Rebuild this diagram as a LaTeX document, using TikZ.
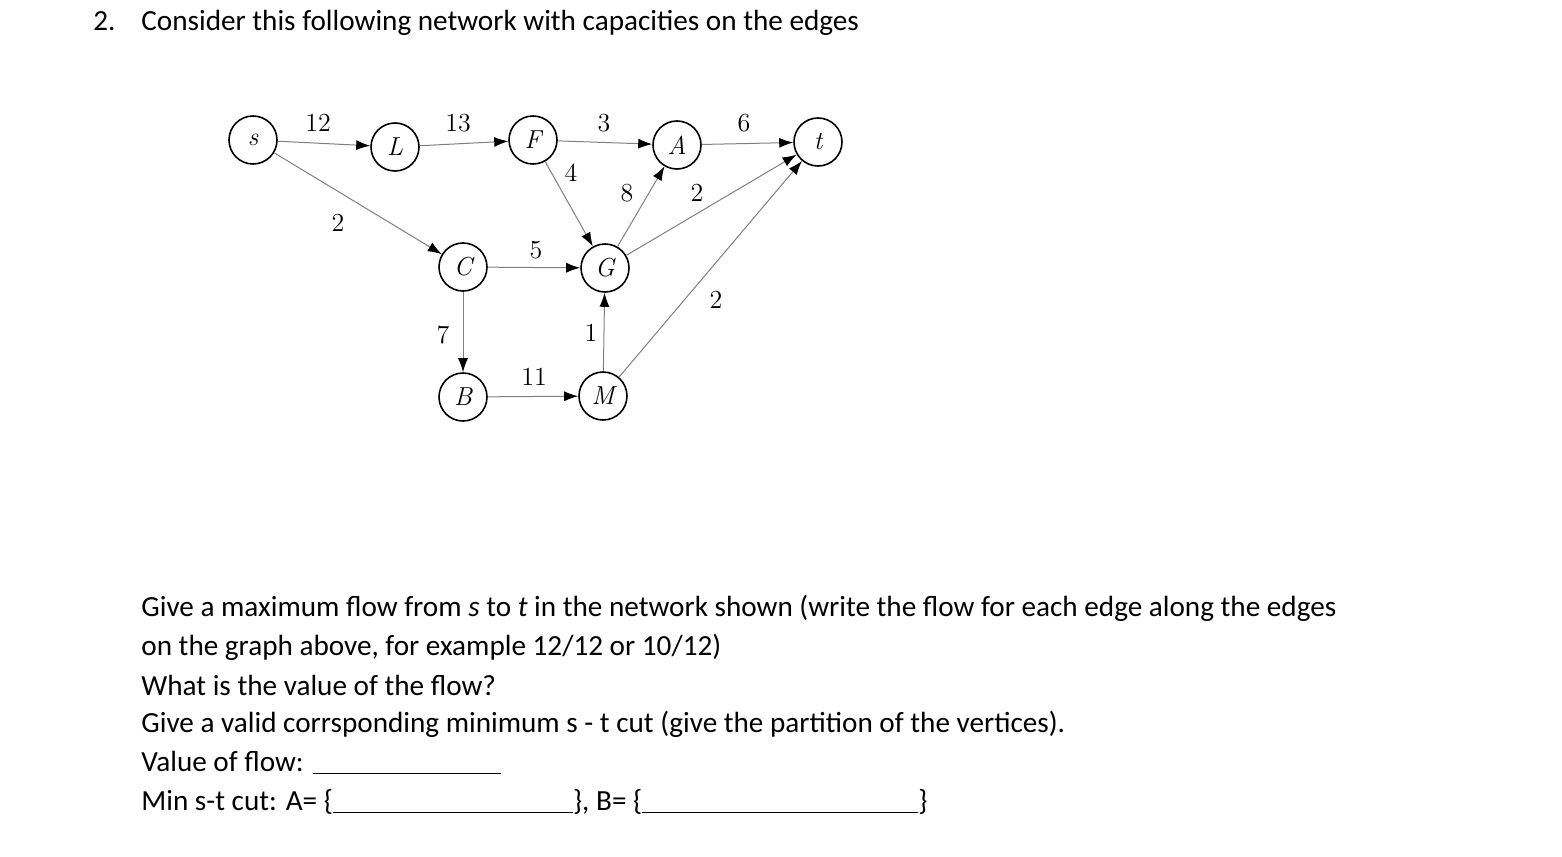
\documentclass[tikz,border=0pt]{standalone}
\usepackage{fontspec}
\setmainfont{Carlito}
\newfontfamily\gr{Latin Modern Roman}
\usetikzlibrary{arrows.meta}
\newcommand{\blank}[1]{\rule[-1.5pt]{#1}{0.6pt}}
\begin{document}
\begin{tikzpicture}[x=0.5pt,y=-0.5pt,
 v/.style={circle,draw=black,thick,minimum size=24pt,inner sep=0pt,font=\gr\fontsize{13}{13}\selectfont\itshape},
 e/.style={draw=gray,line width=0.5pt,-{Latex[length=7pt,width=5pt,black]}},
 lb/.style={font=\gr\fontsize{13}{13}\selectfont,inner sep=1pt},
 tx/.style={anchor=base west,font=\fontsize{14.6}{15}\selectfont,inner sep=0pt}]
\useasboundingbox (0,0) rectangle (1562,856);
\node[v] (s) at (253,140) {s};
\node[v] (L) at (395,147) {L};
\node[v] (F) at (533,140) {F};
\node[v] (A) at (677,145) {A};
\node[v] (t) at (818,142) {t};
\node[v] (C) at (463,267) {C};
\node[v] (G) at (605,268) {G};
\node[v] (B) at (463,397) {B};
\node[v] (M) at (603,396) {M};
\draw[e] (s)--(L); \draw[e] (s)--(C);
\draw[e] (L)--(F); \draw[e] (F)--(A); \draw[e] (A)--(t);
\draw[e] (F)--(G); \draw[e] (G)--(A); \draw[e] (G)--(t);
\draw[e] (C)--(G); \draw[e] (C)--(B); \draw[e] (M)--(G);
\draw[e] (B)--(M); \draw[e] (M)--(t);
\node[lb] (l1) at (318,123) {12};
\node[lb] (l2) at (338,223) {2};
\node[lb] (l3) at (458,123) {13};
\node[lb] (l4) at (604,123) {3};
\node[lb] (l5) at (744,123) {6};
\node[lb] (l6) at (571,173) {4};
\node[lb] (l7) at (627,193) {8};
\node[lb] (l8) at (697,193) {2};
\node[lb] (l9) at (536,250) {5};
\node[lb] (l10) at (716,300) {2};
\node[lb] (l11) at (443,335) {7};
\node[lb] (l12) at (591,333) {1};
\node[lb] (l13) at (534,377) {11};
\node[tx] (h1) at (93,31) {2.};
\node[tx] (h2) at (141,31) {Consider this following network with capacities on the edges};
\node[tx] (q1) at (141,616) {Give a maximum flow from \textit{s} to \textit{t} in the network shown (write the flow for each edge along the edges};
\node[tx] (q2) at (141,655) {on the graph above, for example 12/12 or 10/12)};
\node[tx] (q3) at (141,695) {What is the value of the flow?};
\node[tx] (q4) at (141,732) {Give a valid corrsponding minimum s - t cut (give the partition of the vertices).};
\node[tx] (q5) at (141,771) {Value of flow: \blank{94pt}};
\node[tx] (q6) at (141,810) {Min s-t cut: A= \{\blank{120pt}\}, B= \{\blank{138pt}\}};
\end{tikzpicture}
\end{document}
